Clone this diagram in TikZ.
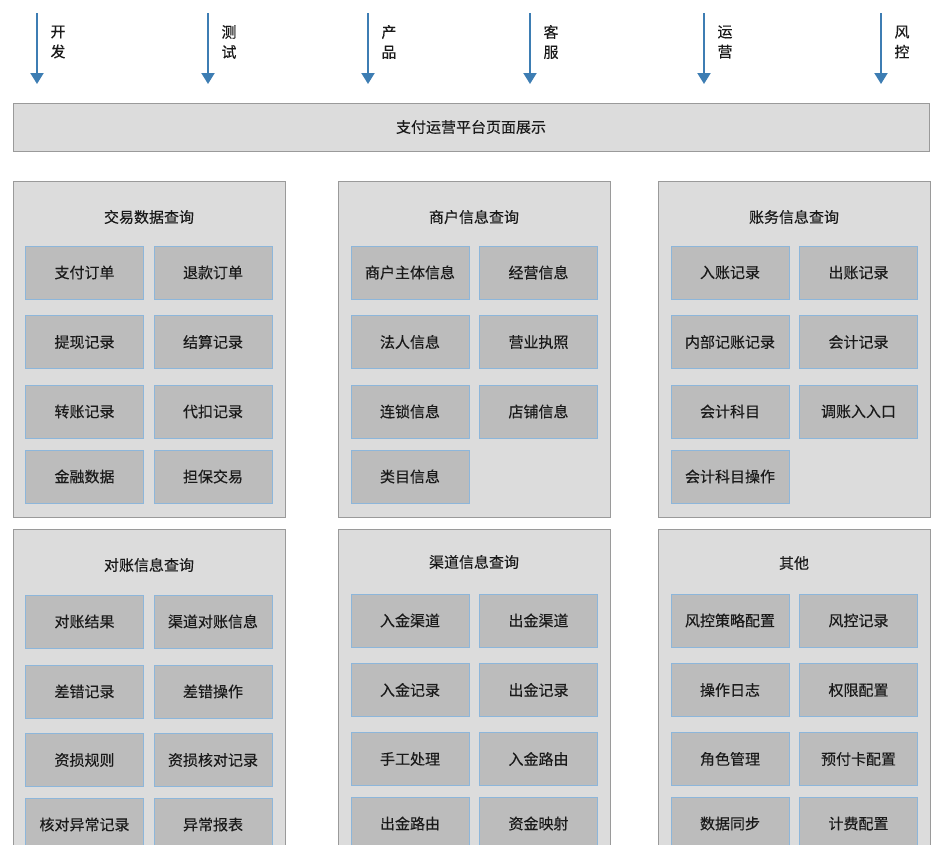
\documentclass[tikz,border=0pt]{standalone}
\usepackage{fontspec}
\setmainfont{Noto Sans CJK SC}[FakeBold=0.3]
\usetikzlibrary{arrows.meta}
\definecolor{panelfill}{HTML}{DCDCDC}
\definecolor{panelline}{HTML}{9A9A9A}
\definecolor{cellfill}{HTML}{BCBCBC}
\definecolor{cellline}{HTML}{8DB6DA}
\definecolor{arrowblue}{HTML}{3D7DB3}
\definecolor{txt}{HTML}{1A1A1A}
\tikzset{
  base/.style={font=\fontsize{15pt}{20pt}\selectfont, text=txt, inner sep=0pt},
  panel/.style={base, draw=panelline, fill=panelfill, line width=1pt, minimum width=272pt},
  topbar/.style={base, draw=panelline, fill=panelfill, line width=1pt, minimum width=916pt, minimum height=48pt},
  cell/.style={base, draw=cellline, fill=cellfill, line width=1pt, minimum width=118pt, minimum height=53pt},
  ptitle/.style={base},
  role/.style={base, align=center},
  flow/.style={draw=arrowblue, line width=2pt, -{Triangle[width=13pt,length=11pt]}}
}
\begin{document}
\begin{tikzpicture}[x=1pt,y=-1pt]
\clip (0,0) rectangle (941,844);
\fill[white] (0,0) rectangle (941,844);
% roles
\foreach \n/\x/\a/\b in {r1/37/开/发, r2/208/测/试, r3/368/产/品, r4/530/客/服, r5/704/运/营, r6/881/风/控}{
  \coordinate (\n s) at (\x,13);
  \coordinate (\n e) at (\x,84);
  \draw[flow] (\n s) -- (\n e);
  \node[role] (\n l) at (\x+21,42) {\a\\\b};
}
\node[topbar] (bar) at (471,127) {支付运营平台页面展示};
% panels
\node[panel, minimum height=336pt] (p1) at (149,349) {};
\node[panel, minimum height=336pt] (p2) at (474,349) {};
\node[panel, minimum height=336pt] (p3) at (794,349) {};
\node[panel, minimum height=341pt] (p4) at (149,699.5) {};
\node[panel, minimum height=341pt] (p5) at (474,699.5) {};
\node[panel, minimum height=341pt] (p6) at (794,699.5) {};
\node[ptitle] (t1) at (149,217) {交易数据查询};
\node[ptitle] (t2) at (474,217) {商户信息查询};
\node[ptitle] (t3) at (794,217) {账务信息查询};
\node[ptitle] (t4) at (149,565) {对账信息查询};
\node[ptitle] (t5) at (474,562) {渠道信息查询};
\node[ptitle] (t6) at (794,563) {其他};
% panel 1
\node[cell] (a1) at (84.5,272.5) {支付订单};
\node[cell] (a2) at (213,272.5) {退款订单};
\node[cell] (a3) at (84.5,342) {提现记录};
\node[cell] (a4) at (213,342) {结算记录};
\node[cell] (a5) at (84.5,411.5) {转账记录};
\node[cell] (a6) at (213,411.5) {代扣记录};
\node[cell] (a7) at (84.5,476.5) {金融数据};
\node[cell] (a8) at (213,476.5) {担保交易};
% panel 2
\node[cell] (b1) at (410,272.5) {商户主体信息};
\node[cell] (b2) at (538.5,272.5) {经营信息};
\node[cell] (b3) at (410,342) {法人信息};
\node[cell] (b4) at (538.5,342) {营业执照};
\node[cell] (b5) at (410,411.5) {连锁信息};
\node[cell] (b6) at (538.5,411.5) {店铺信息};
\node[cell] (b7) at (410,476.5) {类目信息};
% panel 3
\node[cell] (c1) at (730,272.5) {入账记录};
\node[cell] (c2) at (858.5,272.5) {出账记录};
\node[cell] (c3) at (730,342) {内部记账记录};
\node[cell] (c4) at (858.5,342) {会计记录};
\node[cell] (c5) at (730,411.5) {会计科目};
\node[cell] (c6) at (858.5,411.5) {调账入入口};
\node[cell] (c7) at (730,476.5) {会计科目操作};
% panel 4
\node[cell] (d1) at (84.5,621.5) {对账结果};
\node[cell] (d2) at (213,621.5) {渠道对账信息};
\node[cell] (d3) at (84.5,691.5) {差错记录};
\node[cell] (d4) at (213,691.5) {差错操作};
\node[cell] (d5) at (84.5,760) {资损规则};
\node[cell] (d6) at (213,760) {资损核对记录};
\node[cell] (d7) at (84.5,824.5) {核对异常记录};
\node[cell] (d8) at (213,824.5) {异常报表};
% panel 5
\node[cell] (e1) at (410,620.5) {入金渠道};
\node[cell] (e2) at (538.5,620.5) {出金渠道};
\node[cell] (e3) at (410,690) {入金记录};
\node[cell] (e4) at (538.5,690) {出金记录};
\node[cell] (e5) at (410,759) {手工处理};
\node[cell] (e6) at (538.5,759) {入金路由};
\node[cell] (e7) at (410,823.5) {出金路由};
\node[cell] (e8) at (538.5,823.5) {资金映射};
% panel 6
\node[cell] (f1) at (730,620.5) {风控策略配置};
\node[cell] (f2) at (858.5,620.5) {风控记录};
\node[cell] (f3) at (730,690) {操作日志};
\node[cell] (f4) at (858.5,690) {权限配置};
\node[cell] (f5) at (730,759) {角色管理};
\node[cell] (f6) at (858.5,759) {预付卡配置};
\node[cell] (f7) at (730,823.5) {数据同步};
\node[cell] (f8) at (858.5,823.5) {计费配置};
\end{tikzpicture}
\end{document}
